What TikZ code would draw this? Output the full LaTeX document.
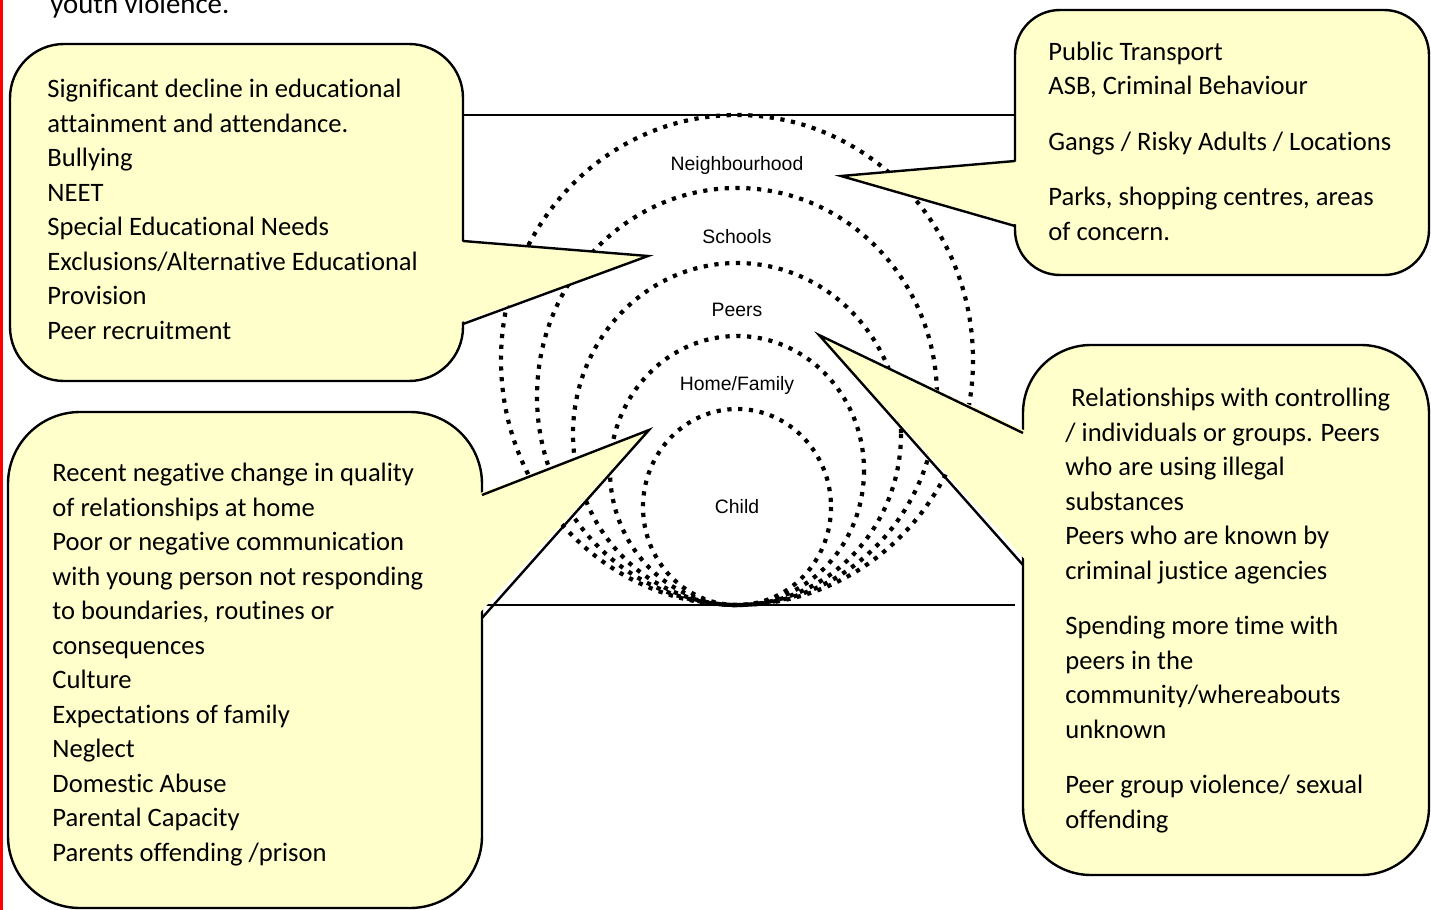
\documentclass[tikz,border=0pt]{standalone}
\usepackage{fontspec}
\setmainfont[Ligatures=CommonOff]{Carlito}
\newfontfamily\ringfont{Liberation Sans}
\definecolor{calloutyellow}{RGB}{255,255,204}
\tikzset{
	callout/.style={draw=black, line width=1.2pt, fill=calloutyellow},
	calloutedge/.style={draw=black, line width=1.2pt, line join=miter},
	ring/.style={line width=2.1pt, dash pattern=on 2.1pt off 3.3pt},
	ringlabel/.style={font=\ringfont\fontsize{9.7}{11}\selectfont, anchor=base, inner sep=0pt},
	callouttext/.style={font=\fontsize{13.3}{17.25}\selectfont, anchor=base west, align=left, inner sep=0pt},% base = last line
}
\begin{document}
\begin{tikzpicture}[x=0.5pt,y=-0.5pt]
	\useasboundingbox (0,0) rectangle (1431,910);
	\clip (0,0) rectangle (1431,910); % Clips the picture...
	\fill[red] (0,0) rectangle (3,910);% Page margin line
	\node[font=\fontsize{14.4}{17}\selectfont, anchor=base west, inner sep=0pt] (TopLine) at (50,13) {youth violence.};

	% Frame of the figure
		\coordinate (FrameTopLeft)     at (463,115);
		\coordinate (FrameTopRight)    at (1015,115);
		\coordinate (FrameBottomLeft)  at (470,605);
		\coordinate (FrameBottomRight) at (1015,605);
		\draw[line width=1pt] (FrameTopLeft) -- (FrameTopRight);
		\draw[line width=1pt] (FrameBottomLeft) -- (FrameBottomRight);

	% Dotted rings, all touching at the bottom
		\foreach \Rx/\Ry in {236/245,200/208.5,164/171,127/134.5,94/98}{\draw[ring] (737,605-\Ry) ellipse [x radius=\Rx, y radius=\Ry];}

		\node[ringlabel] (Neighbourhood) at (737,170) {Neighbourhood};
		\node[ringlabel] (Schools)       at (737,243) {Schools};
		\node[ringlabel] (Peers)         at (737,316) {Peers};
		\node[ringlabel] (HomeFamily)    at (737,390) {Home/Family};
		\node[ringlabel] (Child)         at (737,513) {Child};

	% Callout tips
		\coordinate (SchoolTip)        at (648,256);
		\coordinate (NeighbourhoodTip) at (841,176);
		\coordinate (PeersTip)         at (819,335);
		\coordinate (FamilyTip)        at (649,430);

	% Schools callout
		\draw[callout, rounded corners=27pt] (10,44) rectangle (463,381);
		\fill[calloutyellow] (456,241) -- (SchoolTip) -- (456,324) -- cycle;
		\draw[calloutedge] (463,241) -- (SchoolTip) -- (463,324);
		\node[callouttext] (SchoolText) at (47,339) {Significant decline in educational\\attainment and attendance.\\Bullying\\NEET\\Special Educational Needs\\Exclusions/Alternative Educational\\Provision\\Peer recruitment};

	% Neighbourhood callout
		\draw[callout, rounded corners=22.5pt] (1015,10) rectangle (1429,275);
		\fill[calloutyellow] (1022,161) -- (NeighbourhoodTip) -- (1022,226) -- cycle;
		\draw[calloutedge] (1015,161) -- (NeighbourhoodTip) -- (1015,226);
		\node[callouttext] (NeighbourhoodText) at (1048,240) {Public Transport\\ASB, Criminal Behaviour\\[10.5pt]Gangs / Risky Adults / Locations\\[10.5pt]Parks, shopping centres, areas\\of concern.};

	% Peers callout
		\draw[callout, rounded corners=34pt] (1023,345) rectangle (1429,875);
		\fill[calloutyellow] (1030,433) -- (PeersTip) -- (1030,565) -- cycle;
		\draw[calloutedge] (1023,433) -- (PeersTip) -- (1023,565);
		\node[callouttext] (PeersText) at (1065,828) {\ Relationships with controlling\\/ individuals or groups. Peers\\who are using illegal\\substances\\Peers who are known by\\criminal justice agencies\\[10.5pt]Spending more time with\\peers in the\\community/whereabouts\\unknown\\[10.5pt]Peer group violence/ sexual\\offending};

	% Home/Family callout
		\draw[callout, rounded corners=36pt] (8,412) rectangle (482,908);
		\fill[calloutyellow] (475,495) -- (FamilyTip) -- (475,618) -- cycle;
		\draw[calloutedge] (482,495) -- (FamilyTip) -- (482,618);
		\node[callouttext] (FamilyText) at (52,861) {Recent negative change in quality\\of relationships at home\\Poor or negative communication\\with young person not responding\\to boundaries, routines or\\consequences\\Culture\\Expectations of family\\Neglect\\Domestic Abuse\\Parental Capacity\\Parents offending /prison};
\end{tikzpicture}
\end{document}
